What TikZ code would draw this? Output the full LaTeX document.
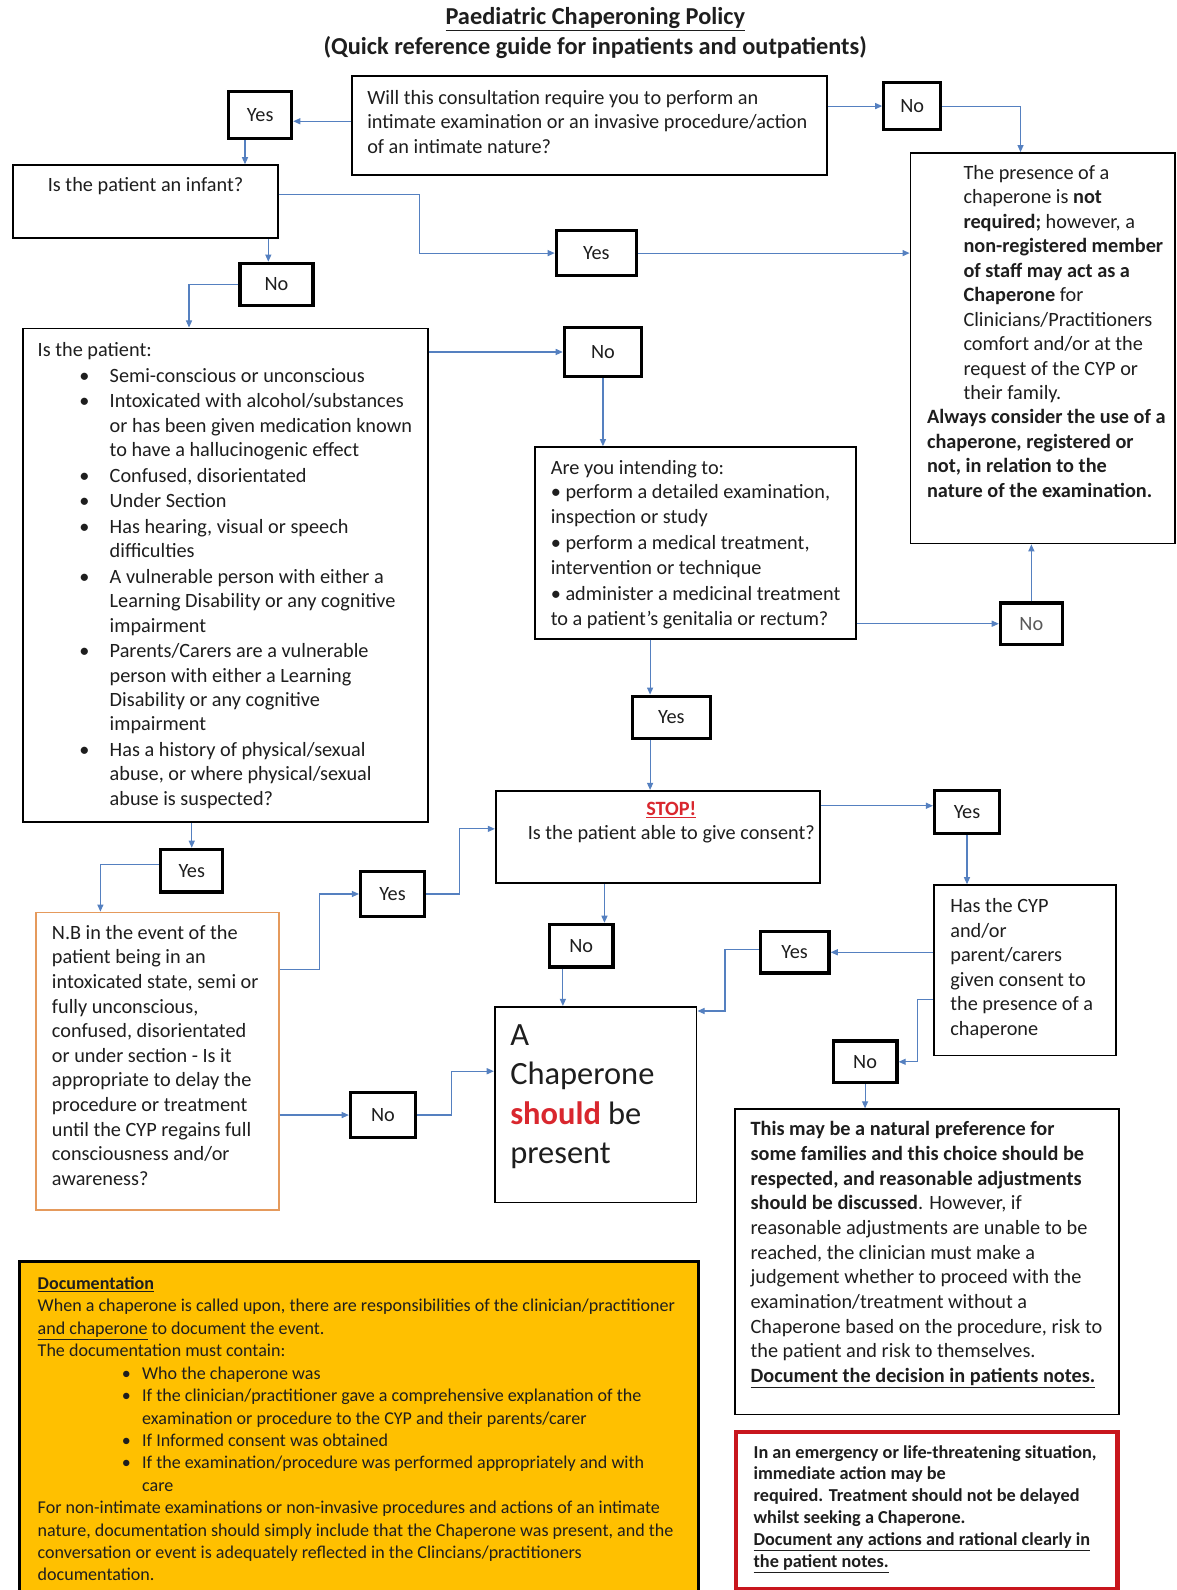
\documentclass[tikz,border=0pt]{standalone}
\usepackage{fontspec}
\setmainfont{Carlito}
\usetikzlibrary{arrows.meta,calc}
\definecolor{arrowc}{HTML}{5580C0}
\definecolor{docfill}{HTML}{FFC000}
\definecolor{nbc}{HTML}{E59A5C}
\definecolor{emred}{HTML}{C8161D}
\definecolor{stopred}{HTML}{D9272E}
\definecolor{txt}{HTML}{1E1E1E}
\newcommand{\myfs}[2]{\fontsize{#1}{#2}\selectfont}
\newcommand{\mybul}{\makebox[30pt][l]{\textbullet}}
\newcommand{\myind}{\hspace*{30pt}}
\newcommand{\dbul}{\hspace*{83pt}\makebox[20pt][l]{\textbullet}}
\newcommand{\dind}{\hspace*{103pt}}
\begin{document}
\begin{tikzpicture}[x=1pt,y=-1pt,
  box/.style={draw=black, line width=1.8pt, anchor=north west, inner sep=0pt, fill=white},
  yn/.style={draw=black, line width=3.2pt, anchor=north west, inner sep=0pt, fill=white, font=\myfs{20}{22}, text=txt},
  tx/.style={anchor=north west, inner sep=0pt, align=left, text=txt, font=\myfs{20}{24.2}},
  arr/.style={draw=arrowc, line width=1.1pt, -{Triangle[length=7pt,width=6pt]}}]
\useasboundingbox (0,0) rectangle (1160,1568);
\fill[white] (0,0) rectangle (1160,1568);
\clip (0,0) rectangle (1160,1568);

% title
\node[anchor=center, inner sep=0pt, font=\bfseries\myfs{24}{28}, text=txt] (title1) at (587,19) {\underline{Paediatric Chaperoning Policy}};
\node[anchor=center, inner sep=0pt, font=\bfseries\myfs{24}{28}, text=txt] (title2) at (587,47) {(Quick reference guide for inpatients and outpatients)};

% boxes
\node[box, minimum width=469, minimum height=98] (q1) at (346,74) {};
\node[yn, minimum width=62, minimum height=46] (yes1) at (224,89) {Yes};
\node[yn, minimum width=56, minimum height=46] (no1) at (870,80) {No};
\node[box, minimum width=261, minimum height=385] (rbox) at (897,150) {};
\node[box, minimum width=261, minimum height=72] (infant) at (12,162) {};
\node[yn, minimum width=79, minimum height=44] (yes2) at (547,226) {Yes};
\node[yn, minimum width=72, minimum height=42] (no2) at (235,258) {No};
\node[box, minimum width=399, minimum height=487] (patient) at (22,323) {};
\node[yn, minimum width=76, minimum height=49] (no3) at (555,321) {No};
\node[box, minimum width=316, minimum height=189] (intend) at (527,440) {};
\node[yn, minimum width=61, minimum height=41, text=black!65] (no4) at (985,593) {No};
\node[yn, minimum width=77, minimum height=42] (yes3) at (622,685) {Yes};
\node[box, minimum width=320, minimum height=91] (stop) at (488,779) {};
\node[yn, minimum width=64, minimum height=42] (yes4) at (920,778) {Yes};
\node[box, minimum width=180, minimum height=168] (cyp) at (920,872) {};
\node[yn, minimum width=68, minimum height=41] (yes5) at (748,917) {Yes};
\node[yn, minimum width=63, minimum height=41] (no5) at (820,1025) {No};
\node[box, minimum width=379, minimum height=301] (pref) at (724,1093) {};
\node[box, draw=emred, line width=4pt, minimum width=376, minimum height=155] (emerg) at (724,1410) {};
\node[yn, minimum width=63, minimum height=42] (no6) at (540,910) {No};
\node[box, minimum width=199, minimum height=193] (chap) at (487,992) {};
\node[yn, minimum width=61, minimum height=42] (yes6) at (157,836) {Yes};
\node[box, draw=nbc, minimum width=239, minimum height=293] (nb) at (35,899) {};
\node[yn, minimum width=63, minimum height=44] (yes7) at (354,858) {Yes};
\node[yn, minimum width=64, minimum height=44] (no7) at (344,1076) {No};
\node[box, fill=docfill, line width=3pt, minimum width=669, minimum height=340] (doc) at (18,1243) {};

% texts
\node[tx] (q1t) at (362,88.5) {Will this consultation require you to perform an\\intimate examination or an invasive procedure/action\\of an intimate nature?};
\node[tx] (rbt1) at (950,162.5) {The presence of a\\chaperone is \textbf{not}\\\textbf{required;} however, a\\\textbf{non-registered member}\\\textbf{of staff may act as a}\\\textbf{Chaperone} for\\Clinicians/Practitioners\\comfort and/or at the\\request of the CYP or\\their family.};
\node[tx, font=\bfseries\myfs{20}{24.2}] (rbt2) at (914,403.5) {Always consider the use of a\\chaperone, registered or\\not, in relation to the\\nature of the examination.};
\node[tx] (inft) at (47,175) {Is the patient an infant?};
\node[tx] (pt0) at (37,337) {Is the patient:};
\node[tx, font=\myfs{20}{24}] (pt1) at (78,363) {\mybul Semi-conscious or unconscious\\[1.3pt]
\mybul Intoxicated with alcohol/substances\\ \myind or has been given medication known\\ \myind to have a hallucinogenic effect\\[1.3pt]
\mybul Confused, disorientated\\[1.3pt]
\mybul Under Section\\[1.3pt]
\mybul Has hearing, visual or speech\\ \myind difficulties\\[1.3pt]
\mybul A vulnerable person with either a\\ \myind Learning Disability or any cognitive\\ \myind impairment\\[1.3pt]
\mybul Parents/Carers are a vulnerable\\ \myind person with either a Learning\\ \myind Disability or any cognitive\\ \myind impairment\\[1.3pt]
\mybul Has a history of physical/sexual\\ \myind abuse, or where physical/sexual\\ \myind abuse is suspected?};
\node[tx] (itt) at (543,453.5) {Are you intending to:\\\textbullet\ perform a detailed examination,\\inspection or study\\[2pt]\textbullet\ perform a medical treatment,\\intervention or technique\\[2pt]\textbullet\ administer a medicinal treatment\\to a patient’s genitalia or rectum?};
\node[anchor=north, inner sep=0pt, align=center, font=\myfs{20}{24}, text=txt] (stt) at (662,790.5) {\textcolor{stopred}{\textbf{\underline{STOP!}}}\\Is the patient able to give consent?};
\node[tx] (cypt) at (937,886) {Has the CYP\\and/or\\parent/carers\\given consent to\\the presence of a\\chaperone};
\node[tx, font=\myfs{20}{24.3}] (preft) at (740,1106) {\textbf{This may be a natural preference for}\\\textbf{some families and this choice should be}\\\textbf{respected, and reasonable adjustments}\\\textbf{should be discussed}. However, if\\reasonable adjustments are unable to be\\reached, the clinician must make a\\judgement whether to proceed with the\\examination/treatment without a\\Chaperone based on the procedure, risk to\\the patient and risk to themselves.\\\textbf{\underline{Document the decision in patients notes.}}};
\node[tx, font=\bfseries\myfs{18}{21.6}] (emt) at (743,1425) {In an emergency or life-threatening situation,\\immediate action may be\\required. Treatment should not be delayed\\whilst seeking a Chaperone.\\\underline{Document any actions and rational clearly in}\\\underline{the patient notes.}};
\node[tx, font=\myfs{32}{39}] (chapt) at (503,1010) {A\\Chaperone\\\textcolor{stopred}{\textbf{should}} be\\present};
\node[tx, font=\myfs{20}{24.3}] (nbt) at (51,912) {N.B in the event of the\\patient being in an\\intoxicated state, semi or\\fully unconscious,\\confused, disorientated\\or under section - Is it\\appropriate to delay the\\procedure or treatment\\until the CYP regains full\\consciousness and/or\\awareness?};
\node[tx, font=\myfs{17.8}{22.1}] (doct) at (37,1259) {\textbf{\underline{Documentation}}\\When a chaperone is called upon, there are responsibilities of the clinician/practitioner\\\underline{and chaperone} to document the event.\\The documentation must contain:\\
\dbul Who the chaperone was\\
\dbul If the clinician/practitioner gave a comprehensive explanation of the\\ \dind examination or procedure to the CYP and their parents/carer\\
\dbul If Informed consent was obtained\\
\dbul If the examination/procedure was performed appropriately and with\\ \dind care\\
For non-intimate examinations or non-invasive procedures and actions of an intimate\\nature, documentation should simply include that the Chaperone was present, and the\\conversation or event is adequately reflected in the Clincians/practitioners\\documentation.};

% connectors
\coordinate (c1) at ($(yes1.east)+(0,6)$);
\draw[arr] (q1.west |- c1) -- (c1);
\draw[arr] (q1.east |- no1.west) -- (no1.west);
\draw[arr] (no1.east) -| ($(rbox.north)+(-22,0)$);
\coordinate (c4) at ($(yes1.south)+(-15,0)$);
\draw[arr] (c4) -- (c4 |- infant.north);
\coordinate (c5) at ($(infant.north east)+(0,30)$);
\draw[arr] (c5) -- ($(c5)+(139,0)$) |- (yes2.west);
\draw[arr] (yes2.east) -- (yes2.east -| rbox.west);
\coordinate (c7) at ($(no2.north)+(-8,0)$);
\draw[arr] (c7 |- infant.south) -- (c7);
\draw[arr] (no2.west) -| ($(patient.north)+(-36,0)$);
\draw[arr] (no3.west -| patient.east) -- (no3.west);
\draw[arr] (no3.south) -- (no3.south |- intend.north);
\draw[arr] (no4.west -| intend.east) -- (no4.west);
\draw[arr] (no4.north) -- (no4.north |- rbox.south);
\coordinate (c13) at ($(yes3.north)+(-21,0)$);
\draw[arr] (c13 |- intend.south) -- (c13);
\draw[arr] (c13 |- yes3.south) -- (c13 |- stop.north);
\coordinate (c15) at ($(yes4.west)+(0,-6)$);
\draw[arr] (c15 -| stop.east) -- (c15);
\draw[arr] (yes4.south) -- (yes4.south |- cyp.north);
\draw[arr] (yes5.east -| cyp.west) -- (yes5.east);
\draw[arr] ($(yes5.west)+(0,-3)$) -- ++(-33,0) |- ($(chap.north east)+(0,5)$);
\draw[arr] ($(cyp.west)+(0,29)$) -- ++(-15,0) |- (no5.east);
\draw[arr] (no5.south) -- (no5.south |- pref.north);
\coordinate (c21) at ($(no6.north)+(23,0)$);
\draw[arr] (c21 |- stop.south) -- (c21);
\coordinate (c22) at ($(no6.south)+(-18,0)$);
\draw[arr] (c22) -- (c22 |- chap.north);
\draw[arr] (yes6.north |- patient.south) -- (yes6.north);
\draw[arr] ($(yes6.west)+(0,-6)$) -| ($(nb.north west)+(64,0)$);
\draw[arr] ($(nb.north east)+(0,57)$) -- ++(39,0) |- (yes7.west);
\draw[arr] (yes7.east) -- ++(33,0) |- ($(stop.west)+(0,-8)$);
\draw[arr] (no7.west -| nb.east) -- (no7.west);
\draw[arr] (no7.east) -- ++(34,0) |- ($(chap.west)+(0,-33)$);
\end{tikzpicture}
\end{document}
